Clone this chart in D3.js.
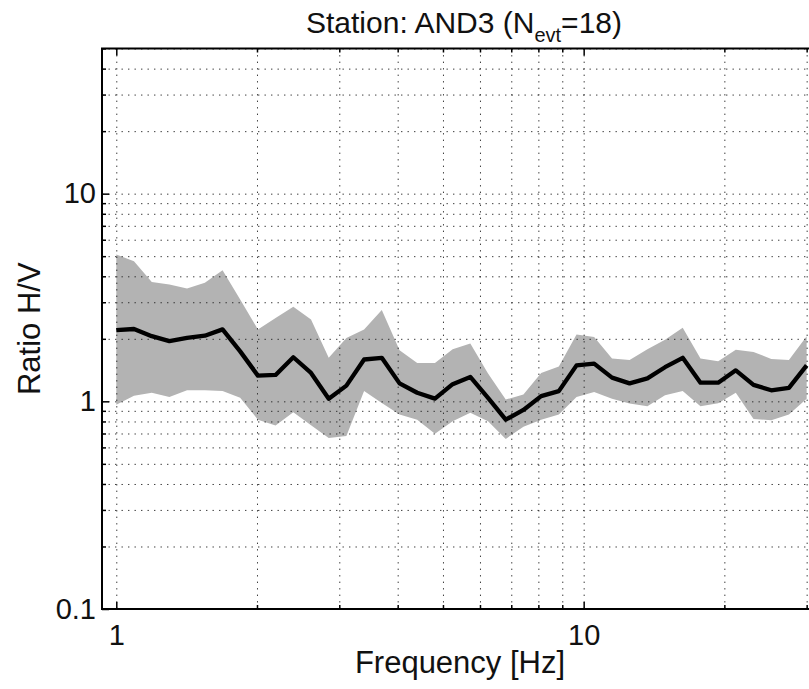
<!DOCTYPE html>
<html>
<head>
<meta charset="utf-8">
<script src="https://cdn.jsdelivr.net/npm/d3@7"></script>
<style>
  body { margin: 0; background: #fff; }
  svg text { font-family: "Liberation Sans", Arial, sans-serif; fill: #111; }
  .grid line { stroke: #1a1a1a; stroke-width: 1; stroke-dasharray: 1.4 5.1; opacity: 0.85; }
  .grid path, .ticks path { display: none; }
  .ticks line { stroke: #000; stroke-width: 1.5; }
  .ticks text { font-size: 29px; }
</style>
</head>
<body>
<div id="chart"></div>
<script>
// Frequencies (Hz) of the spectral ratio samples
const freq = [1.000, 1.091, 1.191, 1.299, 1.417, 1.547, 1.688, 1.841, 2.009, 2.192,
              2.392, 2.610, 2.848, 3.107, 3.390, 3.699, 4.037, 4.404, 4.806, 5.244,
              5.721, 6.243, 6.812, 7.432, 8.110, 8.849, 9.655, 10.53, 11.50, 12.54,
              13.69, 14.93, 16.29, 17.78, 19.40, 21.16, 23.09, 25.20, 27.49, 30.00];

// Mean H/V ratio
const meanHV = [2.20, 2.23, 2.06, 1.95, 2.02, 2.07, 2.22, 1.74, 1.33, 1.34,
                1.63, 1.37, 1.03, 1.19, 1.59, 1.62, 1.22, 1.10, 1.03, 1.21,
                1.31, 1.04, 0.816, 0.909, 1.06, 1.12, 1.49, 1.52, 1.30, 1.22,
                1.29, 1.46, 1.62, 1.23, 1.23, 1.41, 1.20, 1.13, 1.16, 1.49];

// Upper and lower edges of the shaded band
const upperHV = [5.10, 4.72, 3.75, 3.65, 3.49, 3.72, 4.28, 3.09, 2.22, 2.52,
                 2.85, 2.48, 1.62, 2.02, 2.22, 2.75, 1.76, 1.53, 1.53, 1.78,
                 1.90, 1.36, 1.02, 1.08, 1.37, 1.47, 2.10, 2.04, 1.61, 1.58,
                 1.78, 1.98, 2.26, 1.61, 1.56, 1.77, 1.73, 1.60, 1.58, 2.06];
const lowerHV = [0.964, 1.065, 1.10, 1.05, 1.13, 1.13, 1.12, 1.04, 0.816, 0.764,
                 0.887, 0.768, 0.666, 0.681, 1.12, 0.982, 0.863, 0.816, 0.699, 0.801,
                 0.882, 0.801, 0.659, 0.755, 0.816, 0.863, 1.05, 1.11, 1.03, 0.975,
                 0.948, 1.07, 1.12, 0.946, 0.978, 1.10, 0.823, 0.810, 0.863, 1.03];

// Tick values and labels
const xMajor = [1, 10];
const xMajorLabels = ["1", "10"];
const xMinor = [2, 3, 4, 5, 6, 7, 8, 9, 20, 30];
const yMajor = [0.1, 1, 10];
const yMajorLabels = ["0.1", "1", "10"];
const yMinor = [0.2, 0.3, 0.4, 0.5, 0.6, 0.7, 0.8, 0.9, 2, 3, 4, 5, 6, 7, 8, 9, 20, 30, 40, 50];

const xDomain = [0.932, 33];
const yDomain = [0.1, 50];

// Layout
const w = 809, h = 689;
const padLeft = 102, padRight = 826, padTop = 48.5, padBottom = 609;

const svg = d3.select("#chart").append("svg")
  .attr("width", w).attr("height", h);

const x = d3.scaleLog().domain(xDomain).range([padLeft, padRight]);
const y = d3.scaleLog().domain(yDomain).range([padBottom, padTop]);

const rows = freq.map((f, i) => ({ f: f, m: meanHV[i], hi: upperHV[i], lo: lowerHV[i] }));

// Shaded band
svg.append("path")
  .datum(rows)
  .attr("fill", "#b3b3b3")
  .attr("d", d3.area().x(d => x(d.f)).y0(d => y(d.lo)).y1(d => y(d.hi)));

// Dotted grid at major and minor ticks
const allX = xMajor.concat(xMinor);
const allY = yMajor.concat(yMinor);
svg.append("g").attr("class", "grid")
  .attr("transform", "translate(0," + padBottom + ")")
  .call(d3.axisBottom(x).tickValues(allX).tickSize(-(padBottom - padTop)).tickFormat(""));
svg.append("g").attr("class", "grid")
  .attr("transform", "translate(" + padLeft + ",0)")
  .call(d3.axisLeft(y).tickValues(allY).tickSize(-(padRight - padLeft)).tickFormat(""));

// Mean line
svg.append("path")
  .datum(rows)
  .attr("fill", "none")
  .attr("stroke", "#000")
  .attr("stroke-width", 4.3)
  .attr("stroke-linejoin", "round")
  .attr("d", d3.line().x(d => x(d.f)).y(d => y(d.m)));

// Ticks (inward, all four sides)
svg.append("g").attr("class", "ticks")
  .attr("transform", "translate(0," + padBottom + ")")
  .call(d3.axisBottom(x).tickValues(xMajor).tickSize(-7).tickPadding(15)
    .tickFormat((d, i) => xMajorLabels[i]));
svg.append("g").attr("class", "ticks")
  .attr("transform", "translate(0," + padBottom + ")")
  .call(d3.axisBottom(x).tickValues(xMinor).tickSize(-4).tickFormat(""));
svg.append("g").attr("class", "ticks")
  .attr("transform", "translate(0," + padTop + ")")
  .call(d3.axisTop(x).tickValues(xMajor).tickSize(-7).tickFormat(""));
svg.append("g").attr("class", "ticks")
  .attr("transform", "translate(0," + padTop + ")")
  .call(d3.axisTop(x).tickValues(xMinor).tickSize(-4).tickFormat(""));
svg.append("g").attr("class", "ticks")
  .attr("transform", "translate(" + padLeft + ",0)")
  .call(d3.axisLeft(y).tickValues(yMajor).tickSize(-7).tickPadding(6)
    .tickFormat((d, i) => yMajorLabels[i]));
svg.append("g").attr("class", "ticks")
  .attr("transform", "translate(" + padLeft + ",0)")
  .call(d3.axisLeft(y).tickValues(yMinor).tickSize(-4).tickFormat(""));

// Box
svg.append("rect")
  .attr("x", padLeft).attr("y", padTop)
  .attr("width", padRight - padLeft).attr("height", padBottom - padTop)
  .attr("fill", "none").attr("stroke", "#000").attr("stroke-width", 2);

// Labels
const cx = (padLeft + padRight) / 2;
svg.append("text")
  .attr("x", cx - 4).attr("y", 673)
  .attr("text-anchor", "middle")
  .style("font-size", "31px")
  .text("Frequency [Hz]");

svg.append("text")
  .attr("transform", "translate(40," + ((padTop + padBottom) / 2) + ") rotate(-90)")
  .attr("text-anchor", "middle")
  .style("font-size", "31px")
  .text("Ratio H/V");

const title = svg.append("text")
  .attr("x", cx).attr("y", 33)
  .attr("text-anchor", "middle")
  .style("font-size", "30px");
title.append("tspan").text("Station: AND3 (N");
title.append("tspan").attr("dy", 9).style("font-size", "20px").text("evt");
title.append("tspan").attr("dy", -9).text("=18)");
</script>
</body>
</html>
